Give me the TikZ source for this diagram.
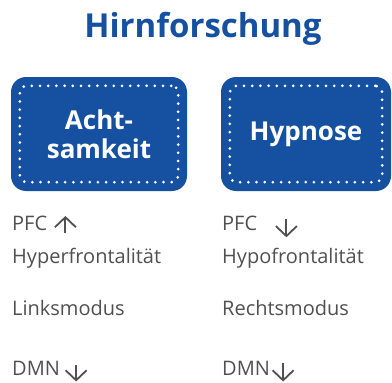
\documentclass[tikz,border=0pt]{standalone}
\usepackage{fontspec}
\setmainfont{Open Sans}
\usetikzlibrary{positioning,fit,arrows.meta}
\definecolor{hirnblue}{RGB}{22,80,160}
\definecolor{textgray}{RGB}{80,80,80}

\begin{document}
\begin{tikzpicture}[x=1pt,y=1pt,
    box/.style={fill=hirnblue, rounded corners=15pt, minimum width=176pt,
      minimum height=114pt, text=white, font=\fontsize{26}{29}\selectfont\bfseries,
      align=center},
    dotframe/.style={draw=white, line width=3pt, line cap=round,
      dash pattern=on 0pt off 8.2pt, rounded corners=7pt, inner sep=-9pt},
    label/.style={anchor=base west, inner sep=0pt, text=textgray,
      font=\fontsize{20}{23}\selectfont},
    trend/.style={draw=textgray, line width=1.8pt,
      -{Straight Barb[length=10pt,width=21pt]}}]
    \useasboundingbox (0,0) rectangle (392,-383);
    \node [anchor=base, text=hirnblue, font=\fontsize{33}{37}\selectfont\bfseries]
      (title) at (203,-37) {Hirnforschung};
    \node [box] (achtsam) at (99,-134) {Acht-\\samkeit};
    \node [box, minimum width=170pt] (hypnose) at (306,-134) {Hypnose};
    \node [dotframe, fit=(achtsam)] (achtsamframe) {};
    \node [dotframe, fit=(hypnose)] (hypnoseframe) {};
    % linke Spalte
    \node [label] (pfcL) at (12,-230) {PFC};
    \node [label] (hyper) at (12,-263) {Hyperfrontalität};
    \node [label] (links) at (12,-315) {Linksmodus};
    \node [label] (dmnL) at (12,-375) {DMN};
    % rechte Spalte
    \node [label] (pfcR) at (222,-230) {PFC};
    \node [label] (hypo) at (222,-263) {Hypofrontalität};
    \node [label] (rechts) at (222,-315) {Rechtsmodus};
    \node [label] (dmnR) at (222,-375) {DMN};
    % Pfeile
    \coordinate [below right=3pt and 18pt of pfcL.base east] (pfcLlow);
    \coordinate [above=17pt of pfcLlow] (pfcLhigh);
    \coordinate [below right=4pt and 29pt of pfcR.north east] (pfcRhigh);
    \coordinate [below=18pt of pfcRhigh] (pfcRlow);
    \coordinate [below right=4pt and 16pt of dmnL.north east] (dmnLhigh);
    \coordinate [below=17pt of dmnLhigh] (dmnLlow);
    \coordinate [below right=2pt and 13pt of dmnR.north east] (dmnRhigh);
    \coordinate [below=19pt of dmnRhigh] (dmnRlow);
    \draw [trend] (pfcLlow) -- (pfcLhigh);
    \draw [trend] (pfcRhigh) -- (pfcRlow);
    \draw [trend] (dmnLhigh) -- (dmnLlow);
    \draw [trend] (dmnRhigh) -- (dmnRlow);
\end{tikzpicture}
\end{document}
